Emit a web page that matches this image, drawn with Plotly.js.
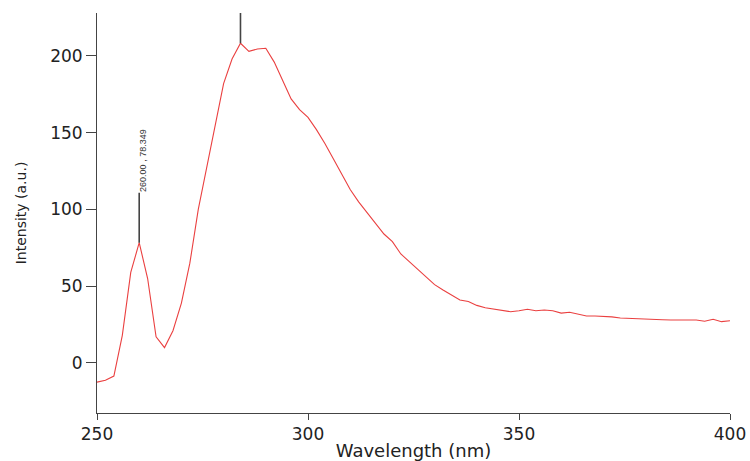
<!DOCTYPE html>
<html>
<head>
<meta charset="utf-8">
<script src="https://cdn.plot.ly/plotly-3.0.1.min.js"></script>
<style>html,body{margin:0;padding:0;background:#fff;}#chart{width:750px;height:461px;}</style>
</head>
<body>
<div id="chart"></div>
<script>
// Wavelength (nm)
const wavelength = [250,252,254,256,258,260,262,264,266,268,270,272,274,276,278,280,282,284,286,288,290,292,294,296,298,300,302,304,306,308,310,312,314,316,318,320,322,324,326,328,330,332,334,336,338,340,342,344,346,348,350,352,354,356,358,360,362,364,366,368,370,372,374,376,378,380,382,384,386,388,390,392,394,396,398,400];
// Intensity (a.u.)
const intensity = [-12.5,-11.3,-8.5,18,59,78.349,55,17,10,21,39,65,100,128,156,182,198,208.3,203,204.5,205,196,184,172,165,160,152,143,133,123,113,105,98,91,84,79,71,66,61,56,51,47.5,44,41,40,37.5,36,35,34,33.4,34,35,34,34.5,34,32.5,33,32,30.6,30.6,30.5,30,29.3,29,28.8,28.7,28.5,28.2,28,28,28,28,27.2,28.5,26.9,27.5];
// Peak-marked wavelengths
const markedWl = [260, 284];
const markedLabels = ["260.00 , 78.349", ""];
const xTicks = [250, 300, 350, 400];
const yTicks = [0, 50, 100, 150, 200];

const fontFam = "DejaVu Sans, Liberation Sans, Arial, sans-serif";

const shapes = [];
const annotations = [];
markedWl.forEach((w, i) => {
  const idx = wavelength.indexOf(w);
  const v = intensity[idx];
  shapes.push({
    type: 'line', xref: 'x', yref: 'y', xsizemode: 'scaled', ysizemode: 'pixel',
    x0: w, x1: w, yanchor: v, y0: 0, y1: i === 0 ? 50 : 31,
    line: {color: '#444', width: 1.6}
  });
  if (markedLabels[i]) {
    annotations.push({
      x: w, y: v, xref: 'x', yref: 'y', text: markedLabels[i], showarrow: false,
      textangle: -90, xanchor: 'center', yanchor: 'middle', xshift: 3, yshift: 82,
      font: {family: "Liberation Sans, Arial, sans-serif", size: 9, color: '#333'}
    });
  }
});

const trace = {
  x: wavelength, y: intensity, type: 'scatter', mode: 'lines',
  line: {color: 'rgb(234,64,64)', width: 1.1}, hoverinfo: 'skip'
};

const layout = {
  width: 750, height: 461,
  margin: {l: 97, r: 20, t: 13, b: 48},
  paper_bgcolor: '#fff', plot_bgcolor: '#fff',
  showlegend: false,
  font: {family: fontFam, color: '#222'},
  xaxis: {
    range: [250, 400], tickvals: xTicks, ticktext: xTicks.map(String),
    showgrid: false, zeroline: false, showline: true, linecolor: '#444', linewidth: 1,
    ticks: 'outside', ticklen: 6, tickcolor: '#444', tickwidth: 1,
    tickfont: {family: fontFam, size: 17, color: '#222'},
    title: {text: 'Wavelength (nm)', font: {family: fontFam, size: 18, color: '#222'}},
    automargin: false
  },
  yaxis: {
    range: [-32.6, 228], tickvals: yTicks, ticktext: yTicks.map(String),
    showgrid: false, zeroline: false, showline: true, linecolor: '#444', linewidth: 1,
    ticks: 'outside', ticklen: 10, tickcolor: '#444', tickwidth: 1,
    tickfont: {family: fontFam, size: 17, color: '#222'},
    title: {text: 'Intensity (a.u.)', font: {family: fontFam, size: 14, color: '#222'}, standoff: 20},
    automargin: true
  },
  shapes: shapes,
  annotations: annotations
};

Plotly.newPlot('chart', [trace], layout, {displayModeBar: false, staticPlot: true});
</script>
</body>
</html>
